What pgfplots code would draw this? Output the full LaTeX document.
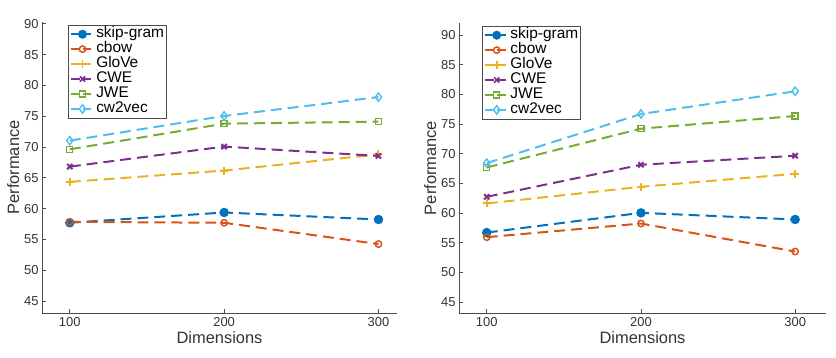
\documentclass[border=0pt]{standalone}
\usepackage{fontspec}
\setmainfont{Liberation Sans}
\usepackage{pgfplots}
\pgfplotsset{compat=1.18}
\definecolor{c1}{rgb}{0,0.447,0.741}
\definecolor{c2}{rgb}{0.85,0.325,0.098}
\definecolor{c3}{rgb}{0.929,0.694,0.125}
\definecolor{c4}{rgb}{0.494,0.184,0.556}
\definecolor{c5}{rgb}{0.466,0.674,0.188}
\definecolor{c6}{rgb}{0.301,0.745,0.933}
\pgfplotsset{
  mystyle/.style={
    scale only axis,
    anchor=south west,
    axis lines=left,
    axis line style={-, draw=black!70, line width=0.7pt},
    tick style={draw=black!70, line width=0.7pt},
    tick align=inside,
    major tick length=4bp,
    xtick={100,200,300},
    ytick={45,50,...,90},
    /pgf/number format/assume math mode=true,
    tick label style={font=\fontsize{13}{14}\selectfont, text=black!80},
    xticklabel style={yshift=-1bp},
    xlabel={Dimensions},
    ylabel={Performance},
    label style={font=\fontsize{16.5}{18}\selectfont, text=black!80},
    xlabel style={yshift=1.5bp},
    ylabel style={yshift=-2bp},
    legend style={at={(0.073,0.99)}, anchor=north west, draw=black!70, line width=0.7pt,
      font=\fontsize{15.5}{15}\selectfont, row sep=0pt, inner sep=1.5pt,
      nodes={text height=10pt, text depth=3pt, inner sep=1pt},
      cells={anchor=west}},
    legend cell align=left,
    legend image code/.code={
      \draw[mark repeat=2,mark phase=2,dash pattern=on 9pt off 3pt, line width=1.6pt]
        plot coordinates {(0pt,0pt) (12pt,0pt) (24pt,0pt)};
    },
  },
  base/.style={line width=2pt, dash pattern=on 11pt off 6pt},
  p1/.style={base, c1, mark=*, mark options={solid, fill=c1}, mark size=3.7pt},
  p2/.style={base, c2, mark=o, mark options={solid, line width=1.5pt}, mark size=3.2pt},
  p3/.style={base, c3, mark=+, mark options={solid}, mark size=4pt},
  p4/.style={base, c4, mark=x, mark options={solid}, mark size=3.7pt},
  p5/.style={base, c5, mark=square, mark options={solid, line width=1.4pt}, mark size=3pt},
  p6/.style={base, c6, mark=diamond, mark options={solid, line width=1.4pt}, mark size=4.2pt},
}
\begin{document}
\begin{tikzpicture}
\path[use as bounding box] (0bp,0bp) rectangle (836bp,358bp);
\begin{axis}[mystyle, at={(42bp,45bp)}, width=355bp, height=291bp,
  xmin=82, xmax=312, ymin=43.05, ymax=90.3]
\addplot[p1] coordinates {(100,57.7) (200,59.37) (300,58.23)};
\addlegendentry{skip-gram}
\addplot[p2] coordinates {(100,57.85) (200,57.7) (300,54.24)};
\addlegendentry{cbow}
\addplot[p3] coordinates {(100,64.34) (200,66.18) (300,68.8)};
\addlegendentry{GloVe}
\addplot[p4] coordinates {(100,66.82) (200,70.07) (300,68.55)};
\addlegendentry{CWE}
\addplot[p5] coordinates {(100,69.63) (200,73.79) (300,74.12)};
\addlegendentry{JWE}
\addplot[p6] coordinates {(100,71.04) (200,75.04) (300,78.11)};
\addlegendentry{cw2vec}
\end{axis}
\begin{axis}[mystyle, at={(459bp,45bp)}, width=367bp, height=290bp,
  xmin=82, xmax=320, ymin=43.15, ymax=92.0,
  legend style={at={(0.063,0.99)}}]
\addplot[p1] coordinates {(100,56.7) (200,60.02) (300,58.9)};
\addlegendentry{skip-gram}
\addplot[p2] coordinates {(100,55.92) (200,58.22) (300,53.5)};
\addlegendentry{cbow}
\addplot[p3] coordinates {(100,61.6) (200,64.41) (300,66.6)};
\addlegendentry{GloVe}
\addplot[p4] coordinates {(100,62.72) (200,68.12) (300,69.64)};
\addlegendentry{CWE}
\addplot[p5] coordinates {(100,67.67) (200,74.2) (300,76.33)};
\addlegendentry{JWE}
\addplot[p6] coordinates {(100,68.4) (200,76.67) (300,80.5)};
\addlegendentry{cw2vec}
\end{axis}
\end{tikzpicture}
\end{document}
